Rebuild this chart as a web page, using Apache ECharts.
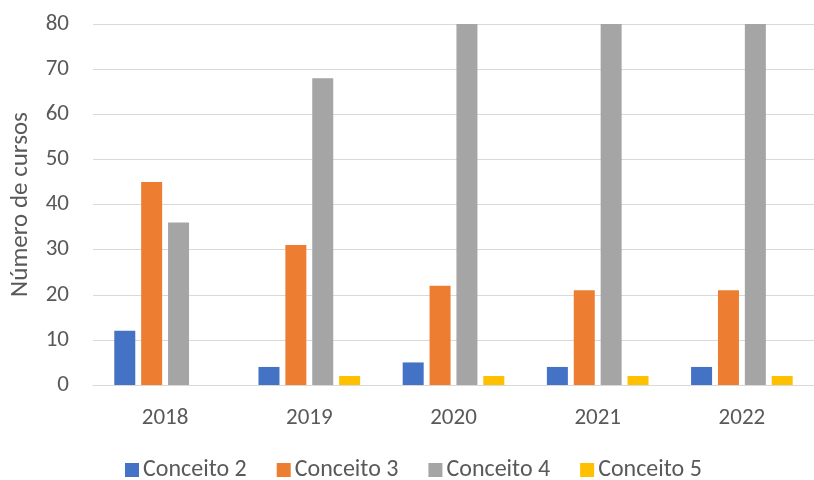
<!DOCTYPE html>
<html>
<head>
<meta charset="utf-8">
<script src="https://cdn.jsdelivr.net/npm/echarts@6/dist/echarts.min.js"></script>
<style>
  html, body { margin: 0; padding: 0; background: #fff; }
  #chart { width: 814px; height: 480px; }
</style>
</head>
<body>
<div id="chart"></div>
<script>
// Courses per evaluation grade ("Conceito"), by year
const years = ['2018', '2019', '2020', '2021', '2022'];
const conceito2 = [12, 4, 5, 4, 4];
const conceito3 = [45, 31, 22, 21, 21];
const conceito4 = [36, 68, 85, 85, 85];   // last three run past the top of the axis
const conceito5 = [0, 2, 2, 2, 2];
const yTicks = { min: 0, max: 80, interval: 10 };

const FONT = 'Carlito, "Liberation Sans", sans-serif';
const TEXT = '#595959';
const GRID = '#d9d9d9';

const seriesDefs = [
  { name: 'Conceito 2', data: conceito2, color: '#4472c4' },
  { name: 'Conceito 3', data: conceito3, color: '#ed7d31' },
  { name: 'Conceito 4', data: conceito4, color: '#a5a5a5' },
  { name: 'Conceito 5', data: conceito5, color: '#ffc000' }
];

const chart = echarts.init(document.getElementById('chart'), null, { renderer: 'canvas' });
chart.setOption({
  animation: false,
  textStyle: { fontFamily: FONT },
  grid: { left: 92, top: 24, width: 726, height: 361, containLabel: false },
  legend: {
    top: 458,
    left: 125,
    padding: 0,
    itemWidth: 14,
    itemHeight: 14,
    itemGap: 30,
    icon: 'rect',
    textStyle: { color: TEXT, fontSize: 24, fontFamily: FONT, padding: [0, 0, 0, -1] },
    data: seriesDefs.map(s => s.name)
  },
  xAxis: {
    type: 'category',
    data: years,
    axisLine: { show: true, lineStyle: { color: GRID, width: 1 } },
    axisTick: { show: false },
    axisLabel: { color: TEXT, fontSize: 23, margin: 22, fontFamily: FONT }
  },
  yAxis: {
    type: 'value',
    min: yTicks.min,
    max: yTicks.max,
    interval: yTicks.interval,
    name: 'Número de cursos',
    nameLocation: 'middle',
    nameGap: 60,
    nameRotate: 90,
    nameTextStyle: { color: TEXT, fontSize: 25, fontFamily: FONT },
    axisLine: { show: false },
    axisTick: { show: false },
    axisLabel: { color: TEXT, fontSize: 23, margin: 24, fontFamily: FONT },
    splitLine: { show: true, lineStyle: { color: GRID, width: 1 } }
  },
  series: seriesDefs.map(s => ({
    name: s.name,
    type: 'bar',
    data: s.data,
    barWidth: 21,
    barGap: '28%',
    clip: true,
    itemStyle: { color: s.color }
  }))
});
</script>
</body>
</html>
